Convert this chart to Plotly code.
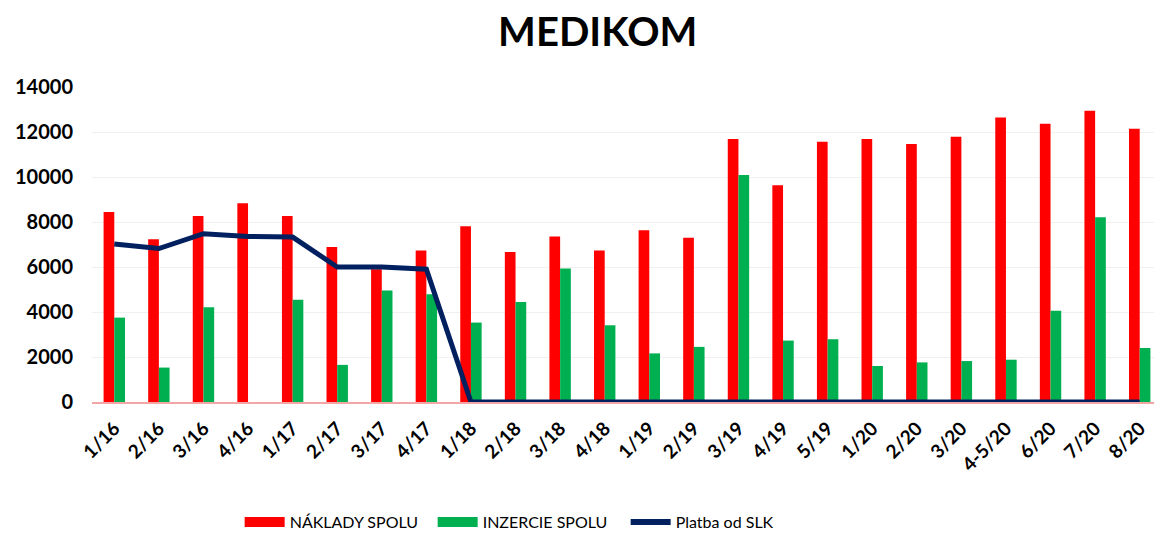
import plotly.graph_objects as go

categories = ["1/16", "2/16", "3/16", "4/16", "1/17", "2/17", "3/17", "4/17",
              "1/18", "2/18", "3/18", "4/18", "1/19", "2/19", "3/19", "4/19",
              "5/19", "1/20", "2/20", "3/20", "4-5/20", "6/20", "7/20", "8/20"]

naklady = [8450, 7230, 8270, 8830, 8270, 6890, 5900, 6730,
           7810, 6670, 7360, 6730, 7630, 7300, 11690, 9630,
           11570, 11690, 11470, 11790, 12650, 12370, 12950, 12150]

inzercie = [3750, 1530, 4210, 0, 4550, 1650, 4960, 4790,
            3530, 4450, 5930, 3410, 2160, 2450, 10090, 2730,
            2790, 1600, 1760, 1820, 1880, 4060, 8210, 2400]

platba = [7020, 6820, 7480, 7360, 7330, 6000, 6000, 5900,
          0, 0, 0, 0, 0, 0, 0, 0,
          0, 0, 0, 0, 0, 0, 0, 0]

y_ticks = [0, 2000, 4000, 6000, 8000, 10000, 12000, 14000]

RED = "#FF0000"
GREEN = "#00B050"
NAVY = "#002060"

fig = go.Figure()
fig.add_trace(go.Bar(x=categories, y=naklady, name="NÁKLADY SPOLU", showlegend=False,
                     marker=dict(color=RED, line=dict(width=0))))
fig.add_trace(go.Bar(x=categories, y=inzercie, name="INZERCIE SPOLU", showlegend=False,
                     marker=dict(color=GREEN, line=dict(width=0))))
fig.add_trace(go.Scatter(x=categories, y=platba, name="Platba od SLK", mode="lines",
                         showlegend=False,
                         line=dict(color=NAVY, width=5), cliponaxis=False))

# legend entries (wide swatches like the original)
fig.add_trace(go.Scatter(x=[None], y=[None], mode="lines", name="NÁKLADY SPOLU",
                         line=dict(color=RED, width=11)))
fig.add_trace(go.Scatter(x=[None], y=[None], mode="lines", name="INZERCIE SPOLU",
                         line=dict(color=GREEN, width=11)))
fig.add_trace(go.Scatter(x=[None], y=[None], mode="lines", name="Platba od SLK",
                         line=dict(color=NAVY, width=6)))

fig.update_layout(
    width=1154, height=526,
    margin=dict(l=84, r=0, t=79, b=132, autoexpand=False),
    paper_bgcolor="white", plot_bgcolor="white",
    title=dict(text="<b>MEDIKOM</b>", x=0.511, xanchor="center", y=0.954, yanchor="middle",
               font=dict(family="Lato", size=40, color="black"), automargin=False),
    barmode="group", bargap=0.52, bargroupgap=0,
    font=dict(family="Lato", color="black"),
    showlegend=True,
    legend=dict(orientation="h", x=0.138, xanchor="left", y=-0.381, yanchor="middle",
                font=dict(family="Lato", size=16, color="black"), itemwidth=40,
                entrywidth=138, entrywidthmode="pixels",
                traceorder="normal", tracegroupgap=0),
    xaxis=dict(type="category", tickangle=-45, showgrid=False, showline=True,
               linecolor="#F4A6A6", linewidth=2, ticks="", ticklabelstandoff=6,
               automargin=False,
               tickfont=dict(family="Lato", size=19, color="black", weight="bold")),
    yaxis=dict(range=[0, 14000], tickvals=y_ticks, tickformat="d", showgrid=True,
               gridcolor="#F0F0F0", gridwidth=1, zeroline=False, showline=False, ticks="",
               ticklabelstandoff=18, automargin=False,
               tickfont=dict(family="Lato", size=20, color="black", weight="bold")),
)

fig.write_html("out.html")
